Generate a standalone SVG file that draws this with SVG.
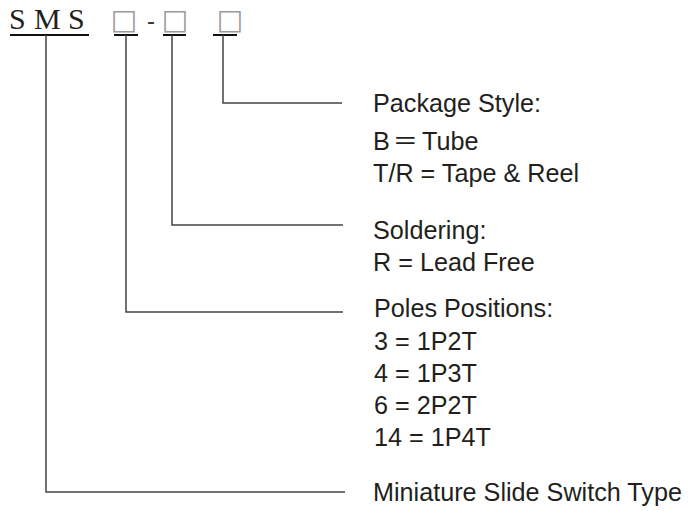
<svg xmlns="http://www.w3.org/2000/svg" width="693" height="511" viewBox="0 0 693 511">
<style>
.code{font-family:"Liberation Serif","Times New Roman",serif;font-size:30px;fill:#231f20}
.ph{font-family:"DejaVu Sans",sans-serif;font-size:28px;fill:#9a9a9a}
.dash{font-family:"Liberation Sans",Arial,sans-serif;font-size:24px;fill:#333}
.lbl{font-family:"Liberation Sans",Arial,"Noto Sans CJK SC",sans-serif;font-size:25.2px;fill:#231f20}
.ul{stroke:#111;stroke-width:2;fill:none}
.ln{stroke:#444;stroke-width:1.5;fill:none}
</style>
<rect width="693" height="511" fill="#fff"/>
<g id="code">
<text class="code" x="9" y="29">S</text>
<text class="code" x="34" y="29">M</text>
<text class="code" x="68" y="29">S</text>
<text class="ph" x="124" y="28.5" text-anchor="middle">□</text>
<text class="dash" x="151" y="29" text-anchor="middle">-</text>
<text class="ph" x="175" y="28.5" text-anchor="middle">□</text>
<text class="ph" x="230" y="28.5" text-anchor="middle">□</text>
<line class="ul" x1="10" y1="35" x2="89" y2="35"/>
<line class="ul" x1="114" y1="35" x2="138" y2="35"/>
<line class="ul" x1="163" y1="35" x2="186" y2="35"/>
<line class="ul" x1="213" y1="35" x2="237" y2="35"/>
</g>
<g id="connectors">
<polyline class="ln" points="223,35 223,103 342,103"/>
<polyline class="ln" points="172,35 172,225 343,225"/>
<polyline class="ln" points="126,35 126,312 343,312"/>
<polyline class="ln" points="46,35 46,492 345,492"/>
</g>
<g id="package">
<text class="lbl" x="373" y="112">Package Style:</text>
<text class="lbl" x="373" y="150">B<tspan dx="3">＝</tspan><tspan dx="4">Tube</tspan></text>
<text class="lbl" x="373" y="182">T/R = Tape &amp; Reel</text>
</g>
<g id="soldering">
<text class="lbl" x="373" y="239">Soldering:</text>
<text class="lbl" x="373" y="271">R = Lead Free</text>
</g>
<g id="poles">
<text class="lbl" x="374" y="317">Poles Positions:</text>
<text class="lbl" x="374" y="350">3 = 1P2T</text>
<text class="lbl" x="374" y="382">4 = 1P3T</text>
<text class="lbl" x="374" y="414">6 = 2P2T</text>
<text class="lbl" x="374" y="446">14 = 1P4T</text>
</g>
<g id="type">
<text class="lbl" x="373" y="501">Miniature Slide Switch Type</text>
</g>
</svg>
